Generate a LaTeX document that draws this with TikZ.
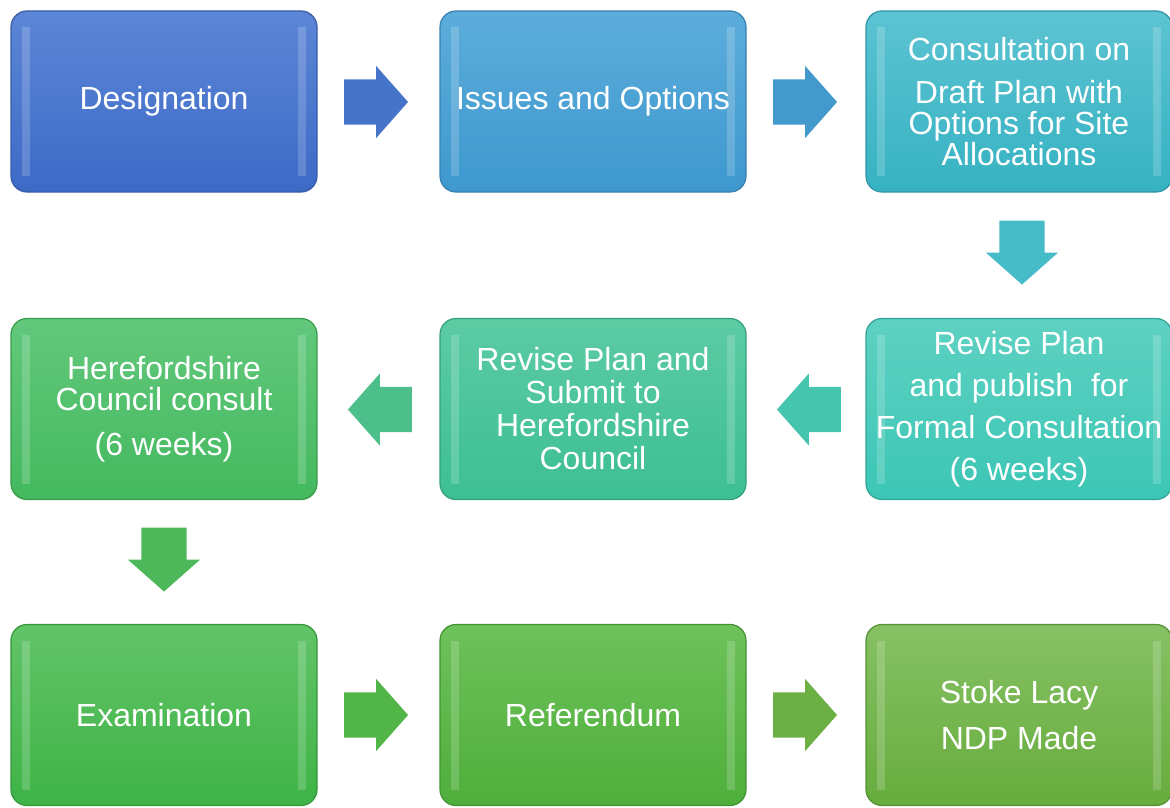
\documentclass[tikz,border=0pt]{standalone}
\usepackage{fontspec}
\setmainfont{Liberation Sans}
\usetikzlibrary{shapes.arrows}
\begin{document}
\begin{tikzpicture}[x=1pt,y=-1pt,
  box/.style={rounded corners=16pt, minimum width=306pt, minimum height=181pt,
    line width=1.2pt, align=center, text=white, inner sep=0pt,
    font=\fontsize{32}{31}\selectfont,
    path picture={
      \fill[white,opacity=.18,sharp corners] ([xshift=11pt,yshift=-16pt]path picture bounding box.north west) rectangle ([xshift=19pt,yshift=16pt]path picture bounding box.south west);
      \fill[white,opacity=.18,sharp corners] ([xshift=-19pt,yshift=-16pt]path picture bounding box.north east) rectangle ([xshift=-11pt,yshift=16pt]path picture bounding box.south east);
    }},
  barrow/.style={single arrow, minimum height=64pt, minimum width=72pt, inner sep=0pt,
    text width=0pt, text height=45pt, text depth=0pt,
    single arrow head extend=13.5pt, single arrow tip angle=97, draw=none}
]
\useasboundingbox (0,0) rectangle (1170,808);

\node[box, top color={rgb,255:red,92;green,134;blue,214}, bottom color={rgb,255:red,60;green,106;blue,198}, draw={rgb,255:red,56;green,92;blue,168}] (b1) at (164,101.5) {Designation};
\node[box, top color={rgb,255:red,92;green,173;blue,219}, bottom color={rgb,255:red,62;green,152;blue,206}, draw={rgb,255:red,56;green,128;blue,176}] (b2) at (593,101.5) {Issues and Options};
\node[box, top color={rgb,255:red,92;green,195;blue,210}, bottom color={rgb,255:red,54;green,178;blue,194}, draw={rgb,255:red,48;green,150;blue,164}] (b3) at (1019,101.5) {Consultation on\\[12pt]Draft Plan with\\Options for Site\\Allocations};

\node[box, top color={rgb,255:red,94;green,209;blue,194}, bottom color={rgb,255:red,60;green,198;blue,181}, draw={rgb,255:red,50;green,164;blue,150}] (b4) at (1019,409) {Revise Plan\\[11pt]and publish\ \ for\\[11pt]Formal Consultation\\[11pt](6 weeks)};
\node[box, top color={rgb,255:red,92;green,203;blue,164}, bottom color={rgb,255:red,61;green,191;blue,147}, draw={rgb,255:red,52;green,160;blue,122}] (b5) at (593,409) {Revise Plan and\\[2pt]Submit to\\[2pt]Herefordshire\\[2pt]Council};
\node[box, top color={rgb,255:red,98;green,200;blue,124}, bottom color={rgb,255:red,68;green,185;blue,94}, draw={rgb,255:red,58;green,155;blue,78}] (b6) at (164,409) {Herefordshire\\Council consult\\[14pt](6 weeks)};

\node[box, top color={rgb,255:red,98;green,196;blue,104}, bottom color={rgb,255:red,62;green,179;blue,70}, draw={rgb,255:red,52;green,150;blue,60}] (b7) at (164,715) {Examination};
\node[box, top color={rgb,255:red,110;green,194;blue,90}, bottom color={rgb,255:red,78;green,174;blue,59}, draw={rgb,255:red,66;green,146;blue,50}] (b8) at (593,715) {Referendum};
\node[box, top color={rgb,255:red,134;green,193;blue,100}, bottom color={rgb,255:red,103;green,172;blue,61}, draw={rgb,255:red,86;green,144;blue,52}] (b9) at (1019,715) {Stoke Lacy\\[15pt]NDP Made};

\node[barrow, fill={rgb,255:red,69;green,116;blue,200}] (a1) at (366,102) {};
\node[barrow, fill={rgb,255:red,68;green,153;blue,204}] (a2) at (795,102) {};
\node[barrow, rotate=-90, fill={rgb,255:red,69;green,188;blue,200}] (a3) at (1022,242.5) {};
\node[barrow, rotate=180, fill={rgb,255:red,69;green,196;blue,174}] (a4) at (819,409.5) {};
\node[barrow, rotate=180, fill={rgb,255:red,77;green,191;blue,138}] (a5) at (390,409.5) {};
\node[barrow, rotate=-90, fill={rgb,255:red,76;green,184;blue,90}] (a6) at (164,549.5) {};
\node[barrow, fill={rgb,255:red,82;green,181;blue,72}] (a7) at (366,715) {};
\node[barrow, fill={rgb,255:red,107;green,175;blue,69}] (a8) at (795,715) {};
\end{tikzpicture}
\end{document}
